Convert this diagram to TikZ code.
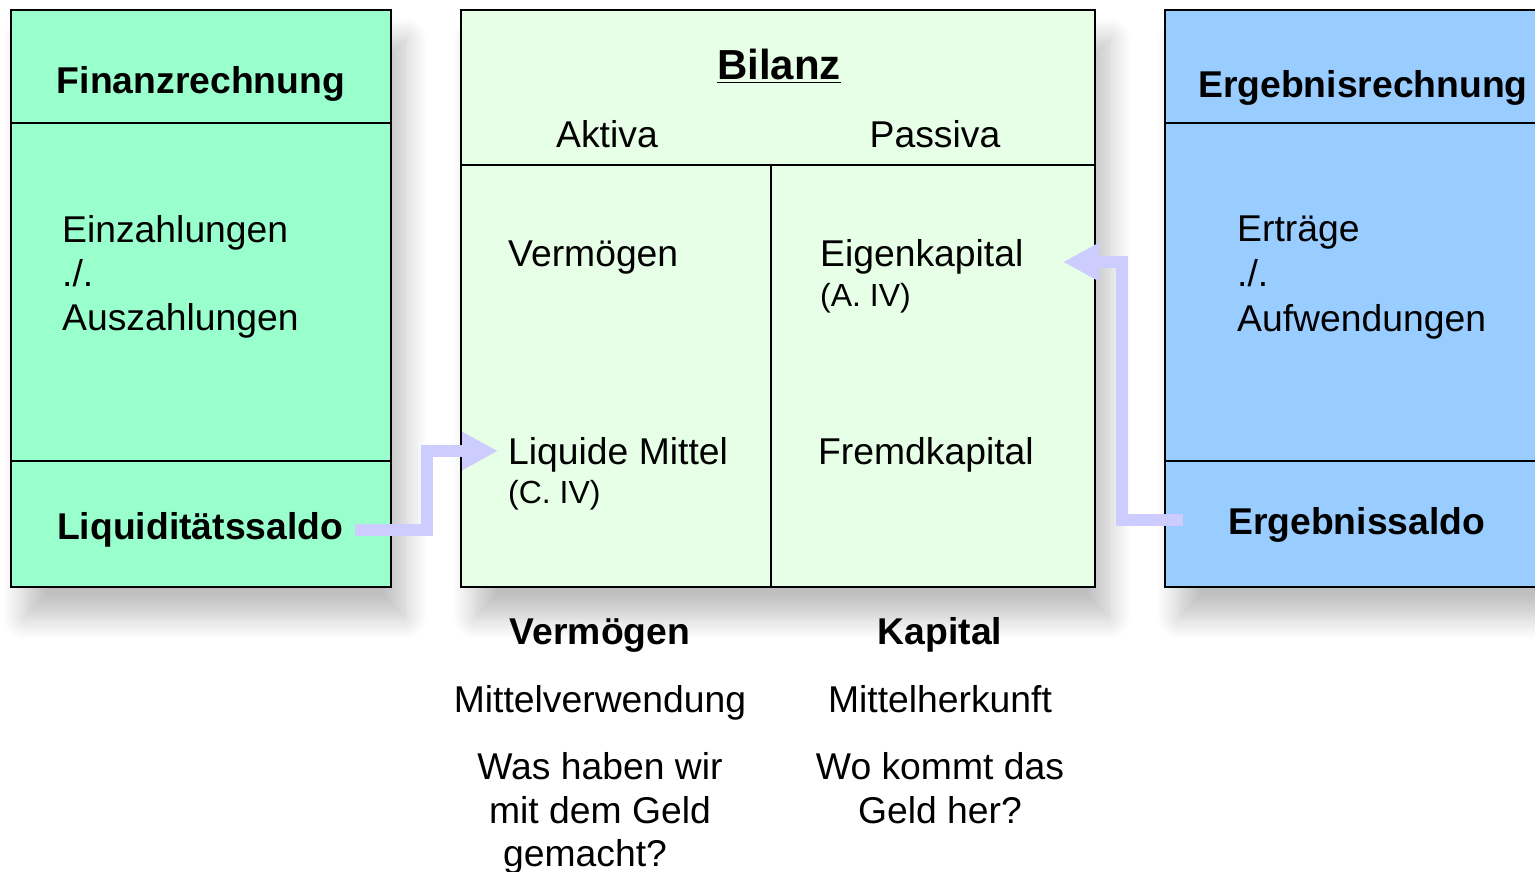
\documentclass[tikz,border=0pt]{standalone}
\usepackage{fontspec}
\setmainfont{Liberation Sans}
\usetikzlibrary{arrows.meta,shadows.blur}
\definecolor{fingreen}{HTML}{99FFCC}
\definecolor{bilgreen}{HTML}{E6FFE6}
\definecolor{ergblue}{HTML}{99CCFF}
\definecolor{arrowlav}{HTML}{CCCCFF}
\tikzset{
  panel/.style={draw=black, line width=2.5pt, blur shadow={shadow xshift=14pt, shadow yshift=-30pt, shadow blur radius=22pt, shadow opacity=25, shadow blur steps=16}},
  divider/.style={draw=black, line width=2pt},
  txt/.style={font=\fontsize{37.3}{44}\selectfont, inner sep=0pt, anchor=base west},
  ctxt/.style={txt, anchor=base},
  btxt/.style={font=\bfseries\fontsize{37.3}{44}\selectfont, inner sep=0pt, anchor=base west},
  cbtxt/.style={btxt, anchor=base},
  smalltxt/.style={font=\fontsize{32}{38}\selectfont, inner sep=0pt, anchor=base west},
  flow/.style={draw=arrowlav, line width=12pt, line join=miter, -{Triangle[length=36pt, width=36pt]}}
}
\begin{document}
\begin{tikzpicture}[x=1pt, y=-1pt]
\useasboundingbox (0,0) rectangle (1535,872);
\clip (0,0) rectangle (1535,872);

% panels
\path[panel, fill=fingreen] (11,10) rectangle (391,587);
\path[panel, fill=bilgreen] (461,10) rectangle (1095,587);
\path[panel, fill=ergblue] (1165,10) rectangle (1580,587);

% dividers
\draw[divider] (11,123) -- (391,123);
\draw[divider] (11,461) -- (391,461);
\draw[divider] (461,165) -- (1095,165);
\draw[divider] (771,165) -- (771,587);
\draw[divider] (1165,123) -- (1580,123);
\draw[divider] (1165,461) -- (1580,461);

% left panel
\node[cbtxt] (fin) at (201,94) {Finanzrechnung};
\node[txt] (ein) at (62,242) {Einzahlungen};
\node[txt] (minus1) at (62,286) {./.};
\node[txt] (aus) at (62,330) {Auszahlungen};
\node[btxt] (liqs) at (57,539) {Liquiditätssaldo};

% middle panel
\node[font=\bfseries\fontsize{42}{50}\selectfont, inner sep=0pt, anchor=base] (bil) at (779,80) {\underline{Bilanz}};
\node[ctxt] (akt) at (607,148) {Aktiva};
\node[ctxt] (pas) at (935,148) {Passiva};
\node[txt] (verm) at (508,266) {Vermögen};
\node[txt] (eigen) at (820,266) {Eigenkapital};
\node[smalltxt] (aiv) at (820,306) {(A. IV)};
\node[txt] (liqm) at (508,464) {Liquide Mittel};
\node[smalltxt] (civ) at (508,503) {(C. IV)};
\node[txt] (fremd) at (818,464) {Fremdkapital};

% right panel
\node[btxt] (erg) at (1198,98) {Ergebnisrechnung};
\node[txt] (ertr) at (1237,241) {Erträge};
\node[txt] (minus2) at (1237,286) {./.};
\node[txt] (aufw) at (1237,331) {Aufwendungen};
\node[btxt] (ergs) at (1228,534) {Ergebnissaldo};

% below
\node[cbtxt] (vermb) at (600,644) {Vermögen};
\node[cbtxt] (kap) at (940,644) {Kapital};
\node[ctxt] (mv) at (600,712) {Mittelverwendung};
\node[ctxt] (mh) at (940,712) {Mittelherkunft};
\node[ctxt] (q1a) at (600,779) {Was haben wir};
\node[ctxt] (q1b) at (600,823) {mit dem Geld};
\node[ctxt] (q1c) at (585,866) {gemacht?};
\node[ctxt] (q2a) at (940,779) {Wo kommt das};
\node[ctxt] (q2b) at (940,823) {Geld her?};

% connectors
\coordinate (la) at (355,530);
\coordinate (lt) at (498,451);
\coordinate (ra) at (1183,520);
\coordinate (rt) at (1063,262);
\draw[flow] (la) -- (427,530) |- (lt);
\draw[flow] (ra) -- (1122,520) |- (rt);
\end{tikzpicture}
\end{document}
